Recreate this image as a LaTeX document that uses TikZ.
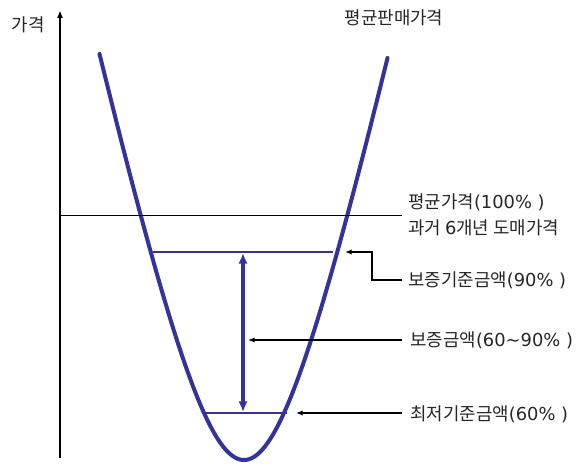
\documentclass[tikz,border=0pt]{standalone}
\usepackage{fontspec}
\setmainfont{Noto Sans CJK KR}
\newfontfamily\latf{DejaVu Sans}
\usetikzlibrary{arrows.meta}
\definecolor{curveblue}{RGB}{51,51,153}
\newcommand{\lt}[1]{{\latf #1}}
\tikzset{
  lbl/.style={anchor=west,inner sep=0pt,font=\fontsize{13.4}{15}\selectfont,text=black!85},
  pointer/.style={-{Latex[length=5pt,width=4pt]},line width=1.2pt},
  bluebar/.style={curveblue,line width=1.8pt},
}
\begin{document}
\begin{tikzpicture}[x=0.75pt,y=-0.75pt]
\useasboundingbox (0,0) rectangle (580,463);
% axis
\coordinate (axb) at (60,458);
\coordinate (axt) at (60,10);
\draw[-{Latex[length=6pt,width=4.5pt]},line width=1.5pt] (axb) -- (axt);
\node[lbl,anchor=center] (ylab) at (28,25) {가격};
\node[lbl,anchor=center] (title) at (394,18) {평균판매가격};
% curve
\draw[curveblue,line width=3pt,line cap=round] plot[domain=-144.5:143.5,samples=120,smooth]
  ({244+\x},{460-326.9*(sqrt(1+(\x/72)*(\x/72))-1)});
% 100% line
\coordinate (h1) at (60,215);
\coordinate (h2) at (402,215);
\draw[line width=0.7pt] (h1) -- (h2);
% blue bars
\coordinate (b90l) at (153,252);
\coordinate (b90r) at (333,252);
\coordinate (b60l) at (206,413);
\coordinate (b60r) at (287,413);
\draw[bluebar] (b90l) -- (b90r);
\draw[bluebar] (b60l) -- (b60r);
\coordinate (va) at (243,253);
\coordinate (vb) at (243,412);
\draw[curveblue,line width=2.6pt,{Latex[length=8pt,width=7pt]}-{Latex[length=8pt,width=7pt]}] (va) -- (vb);
% labels
\node[lbl] (l100) at (408,202) {평균가격\lt{(100\% )}};
\node[lbl] (l100b) at (408,228) {과거 \lt{6}개년 도매가격};
\node[lbl] (l90) at (408,280) {보증기준금액\lt{(90\% )}};
\node[lbl] (lmid) at (410,340) {보증금액\lt{(60\textasciitilde90\% )}};
\node[lbl] (l60) at (410,414) {최저기준금액\lt{(60\% )}};
% pointers
\coordinate (p90) at (345,252);
\coordinate (pmid) at (248,340);
\coordinate (p60) at (296,413);
\draw[pointer] (402,280) -| (372,252) -- (p90);
\draw[pointer] (402,340) -- (pmid);
\draw[pointer] (402,413) -- (p60);
\end{tikzpicture}
\end{document}
